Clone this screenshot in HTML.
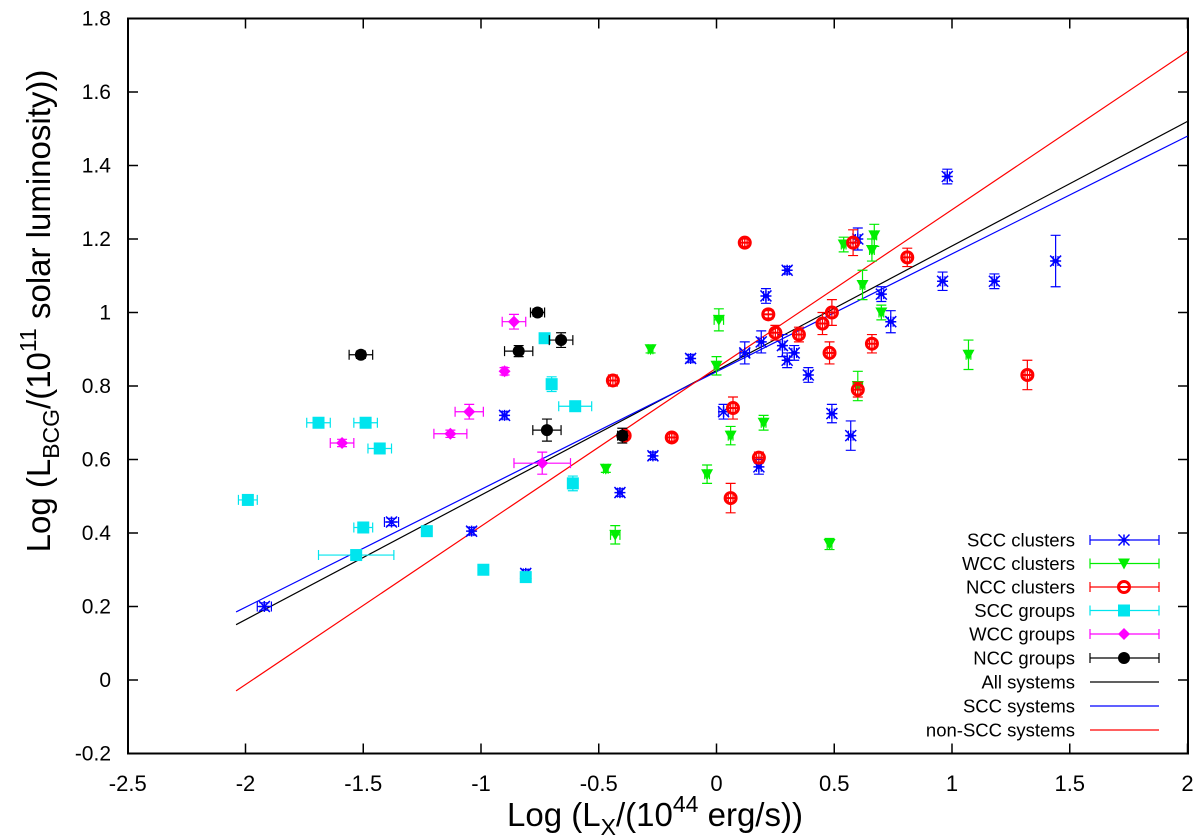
<!DOCTYPE html>
<html><head><meta charset="utf-8"><style>
html,body{margin:0;padding:0;background:#fff}
svg{display:block;font-family:"Liberation Sans",sans-serif}
</style></head><body>
<svg id="chart" width="1200" height="838" viewBox="0 0 1200 838">
<g id="axes"></g>
<g id="fits"></g>
<g id="points"></g>
<g id="legend"></g>
<text x="655" y="826" font-size="33" text-anchor="middle">Log (L<tspan font-size="23" dy="9">X</tspan><tspan dy="-9">/(10</tspan><tspan font-size="23" dy="-14">44</tspan><tspan dy="14"> erg/s))</tspan></text>
<text transform="translate(50,311) rotate(-90)" font-size="33" text-anchor="middle">Log (L<tspan font-size="23" dy="9">BCG</tspan><tspan dy="-9">/(10</tspan><tspan font-size="23" dy="-14">11</tspan><tspan dy="14"> solar luminosity))</tspan></text>
</svg>
<script>
const xTicks = [-2.5,-2,-1.5,-1,-0.5,0,0.5,1,1.5,2];
const yTicks = [-0.2,0,0.2,0.4,0.6,0.8,1,1.2,1.4,1.6,1.8];
const xTickLabels = ["-2.5","-2","-1.5","-1","-0.5","0","0.5","1","1.5","2"];
const yTickLabels = ["-0.2","0","0.2","0.4","0.6","0.8","1","1.2","1.4","1.6","1.8"];
// [x, y, xerr, yerr]
const sccClusters = [[-1.92,0.20,0.03,0.01],[-1.38,0.43,0.03,0.01],[-1.04,0.405,0.01,0.01],[-0.90,0.72,0.01,0.01],[-0.81,0.29,0.01,0.01],[-0.41,0.51,0.01,0.01],[-0.27,0.61,0.01,0.01],[-0.11,0.875,0.01,0.01],[0.03,0.73,0.02,0.02],[0.12,0.89,0.02,0.03],[0.18,0.58,0.01,0.02],[0.19,0.92,0.01,0.03],[0.21,1.045,0.01,0.02],[0.28,0.91,0.01,0.03],[0.30,1.115,0.01,0.01],[0.30,0.87,0.01,0.02],[0.33,0.89,0.01,0.02],[0.39,0.83,0.01,0.02],[0.49,0.725,0.01,0.025],[0.57,0.665,0.01,0.04],[0.60,1.20,0.01,0.03],[0.70,1.05,0.01,0.02],[0.74,0.975,0.01,0.03],[0.96,1.085,0.01,0.025],[0.98,1.37,0.01,0.02],[1.18,1.085,0.01,0.02],[1.44,1.14,0.01,0.07]];
const wccClusters = [[-0.47,0.575,0.01,0.01],[-0.43,0.395,0.02,0.025],[-0.28,0.90,0.01,0.01],[-0.04,0.56,0.01,0.025],[0.00,0.855,0.01,0.025],[0.01,0.98,0.02,0.03],[0.06,0.665,0.01,0.025],[0.20,0.70,0.01,0.02],[0.48,0.37,0.01,0.015],[0.54,1.185,0.01,0.02],[0.60,0.80,0.02,0.04],[0.62,1.075,0.01,0.04],[0.66,1.17,0.01,0.03],[0.67,1.21,0.01,0.03],[0.70,1.00,0.01,0.02],[1.07,0.885,0.01,0.04]];
const nccClusters = [[-0.44,0.815,0.01,0.015],[-0.39,0.665,0.01,0.01],[-0.19,0.66,0.01,0.01],[0.06,0.495,0.01,0.04],[0.07,0.74,0.01,0.03],[0.12,1.19,0.01,0.01],[0.18,0.605,0.01,0.015],[0.22,0.995,0.02,0.01],[0.25,0.945,0.01,0.02],[0.35,0.94,0.01,0.02],[0.45,0.97,0.01,0.03],[0.48,0.89,0.01,0.03],[0.49,1.00,0.01,0.035],[0.58,1.19,0.01,0.035],[0.60,0.79,0.01,0.02],[0.66,0.915,0.01,0.025],[0.81,1.15,0.01,0.025],[1.32,0.83,0.01,0.04]];
const sccGroups = [[-1.99,0.49,0.04,0.01],[-1.69,0.70,0.05,0.01],[-1.49,0.70,0.05,0.01],[-1.43,0.63,0.05,0.01],[-1.50,0.415,0.04,0.01],[-1.53,0.34,0.16,0.01],[-1.23,0.405,0.02,0.01],[-0.99,0.30,0.02,0.01],[-0.81,0.28,0.01,0.01],[-0.73,0.93,0.02,0.01],[-0.70,0.805,0.01,0.02],[-0.61,0.535,0.01,0.02],[-0.60,0.745,0.07,0.01]];
const wccGroups = [[-1.59,0.645,0.05,0.01],[-1.13,0.67,0.07,0.01],[-1.05,0.73,0.06,0.02],[-0.90,0.84,0.01,0.01],[-0.86,0.975,0.05,0.02],[-0.74,0.59,0.12,0.03]];
const nccGroups = [[-1.51,0.885,0.05,0.01],[-0.84,0.895,0.06,0.015],[-0.76,1.00,0.03,0.01],[-0.72,0.68,0.06,0.03],[-0.66,0.925,0.05,0.02],[-0.40,0.665,0.02,0.02]];
// fit lines: [slope, intercept]
const fitAll = [0.339, 0.842];
const fitScc = [0.3205, 0.839];
const fitNonScc = [0.4307, 0.849];
const fitRange = [-2.04, 2];

const L=128, R=1188, T=18.5, B=753.5;
const X = v => 716.5 + 235.5*v;
const Y = v => 680 - 367.5*v;
const NS='http://www.w3.org/2000/svg';
function mk(tag, attrs, parent){const e=document.createElementNS(NS,tag);for(const k in attrs)e.setAttribute(k,attrs[k]);parent.appendChild(e);return e;}

const axes=document.getElementById('axes');
const frame=mk('rect',{x:L,y:T,width:R-L,height:B-T,fill:'none',stroke:'#000','stroke-width':2},axes);


xTicks.forEach((t,i)=>{
  const x=X(t);
  const a=mk('line',{x1:x,y1:B,x2:x,y2:B-10,stroke:'#000','stroke-width':1.5},axes);
  
  
  const b=mk('line',{x1:x,y1:T,x2:x,y2:T+10,stroke:'#000','stroke-width':1.5},axes);
  
  
  const tx=mk('text',{x:x,y:791,'font-size':22,'text-anchor':'middle'},axes);
  tx.textContent=xTickLabels[i];
  
  
});
yTicks.forEach((t,i)=>{
  const y=Y(t);
  const a=mk('line',{x1:L,y1:y,x2:L+10,y2:y,stroke:'#000','stroke-width':1.5},axes);
  
  
  const b=mk('line',{x1:R,y1:y,x2:R-10,y2:y,stroke:'#000','stroke-width':1.5},axes);
  
  
  const tx=mk('text',{x:111,y:y+7,'font-size':21,'text-anchor':'end'},axes);
  tx.textContent=yTickLabels[i];
  
  
});

const fits=document.getElementById('fits');
[[fitAll,'#000','fit-all-systems'],[fitScc,'#0000ff','fit-scc-systems'],[fitNonScc,'#ff0000','fit-non-scc-systems']].forEach(([f,c,n])=>{
  const x2=fitRange[1];
  const l=mk('line',{x1:X(fitRange[0]),y1:Y(f[0]*fitRange[0]+f[1]),x2:X(x2),y2:Y(f[0]*x2+f[1]),stroke:c,'stroke-width':1.2},fits);
  
  
});

function marker(g,type,cx,cy,c){
  if(type==='star'){
    const s=5.5;
    mk('path',{d:`M${cx-s} ${cy}H${cx+s}M${cx} ${cy-s}V${cy+s}M${cx-s} ${cy-s}L${cx+s} ${cy+s}M${cx-s} ${cy+s}L${cx+s} ${cy-s}`,stroke:c,'stroke-width':1.5,fill:'none'},g);
  } else if(type==='tri'){
    mk('polygon',{points:`${cx-6},${cy-5} ${cx+6},${cy-5} ${cx},${cy+6}`,fill:c},g);
  } else if(type==='ocircle'){
    mk('circle',{cx:cx,cy:cy,r:5.5,fill:'none',stroke:c,'stroke-width':3},g);
    mk('line',{x1:cx-6,y1:cy,x2:cx+6,y2:cy,stroke:c,'stroke-width':2},g);
  } else if(type==='square'){
    mk('rect',{x:cx-6,y:cy-6,width:12,height:12,fill:c},g);
  } else if(type==='diamond'){
    mk('polygon',{points:`${cx},${cy-6} ${cx+6},${cy} ${cx},${cy+6} ${cx-6},${cy}`,fill:c},g);
  } else {
    mk('circle',{cx:cx,cy:cy,r:6,fill:c},g);
  }
}
function errbar(g,cx,cy,x1,x2,y1,y2,c){
  mk('path',{d:`M${x1} ${cy}H${x2}M${x1} ${cy-5}V${cy+5}M${x2} ${cy-5}V${cy+5}M${cx} ${y1}V${y2}M${cx-5} ${y1}H${cx+5}M${cx-5} ${y2}H${cx+5}`,stroke:c,'stroke-width':1.2,fill:'none'},g);
}
const series=[
  [sccClusters,'#0000ff','star','scc-cluster-point','SCC clusters'],
  [wccClusters,'#00ee00','tri','wcc-cluster-point','WCC clusters'],
  [nccClusters,'#ff0000','ocircle','ncc-cluster-point','NCC clusters'],
  [sccGroups,'#00e5ee','square','scc-group-point','SCC groups'],
  [wccGroups,'#ff00ff','diamond','wcc-group-point','WCC groups'],
  [nccGroups,'#000000','circle','ncc-group-point','NCC groups']
];
const pts=document.getElementById('points');
series.forEach(([data,c,type,name])=>{
  data.forEach(d=>{
    const g=mk('g',{},pts);
    
    
    const cx=X(d[0]),cy=Y(d[1]);
    errbar(g,cx,cy,X(d[0]-d[2]),X(d[0]+d[2]),Y(d[1]+d[3]),Y(d[1]-d[3]),c);
    marker(g,type,cx,cy,c);
  });
});

const leg=document.getElementById('legend');
const rowsY=[540,563.5,587,610.5,634,658,682,706,730];
series.forEach(([data,c,type,name,label],i)=>{
  const g=mk('g',{},leg);
  
  
  const y=rowsY[i];
  const t=mk('text',{x:1075,y:y+6.5,'font-size':18.5,'text-anchor':'end'},g);
  t.textContent=label;
  mk('path',{d:`M1090 ${y}H1159M1090 ${y-5}V${y+5}M1159 ${y-5}V${y+5}`,stroke:c,'stroke-width':1.2,fill:'none'},g);
  marker(g,type,1124,y,c);
});
[['All systems','#000'],['SCC systems','#0000ff'],['non-SCC systems','#ff0000']].forEach(([label,c],j)=>{
  const g=mk('g',{},leg);
  
  
  const y=rowsY[6+j];
  const t=mk('text',{x:1075,y:y+6.5,'font-size':18.5,'text-anchor':'end'},g);
  t.textContent=label;
  mk('line',{x1:1090,y1:y,x2:1159,y2:y,stroke:c,'stroke-width':1.2},g);
});
</script>
</body></html>
